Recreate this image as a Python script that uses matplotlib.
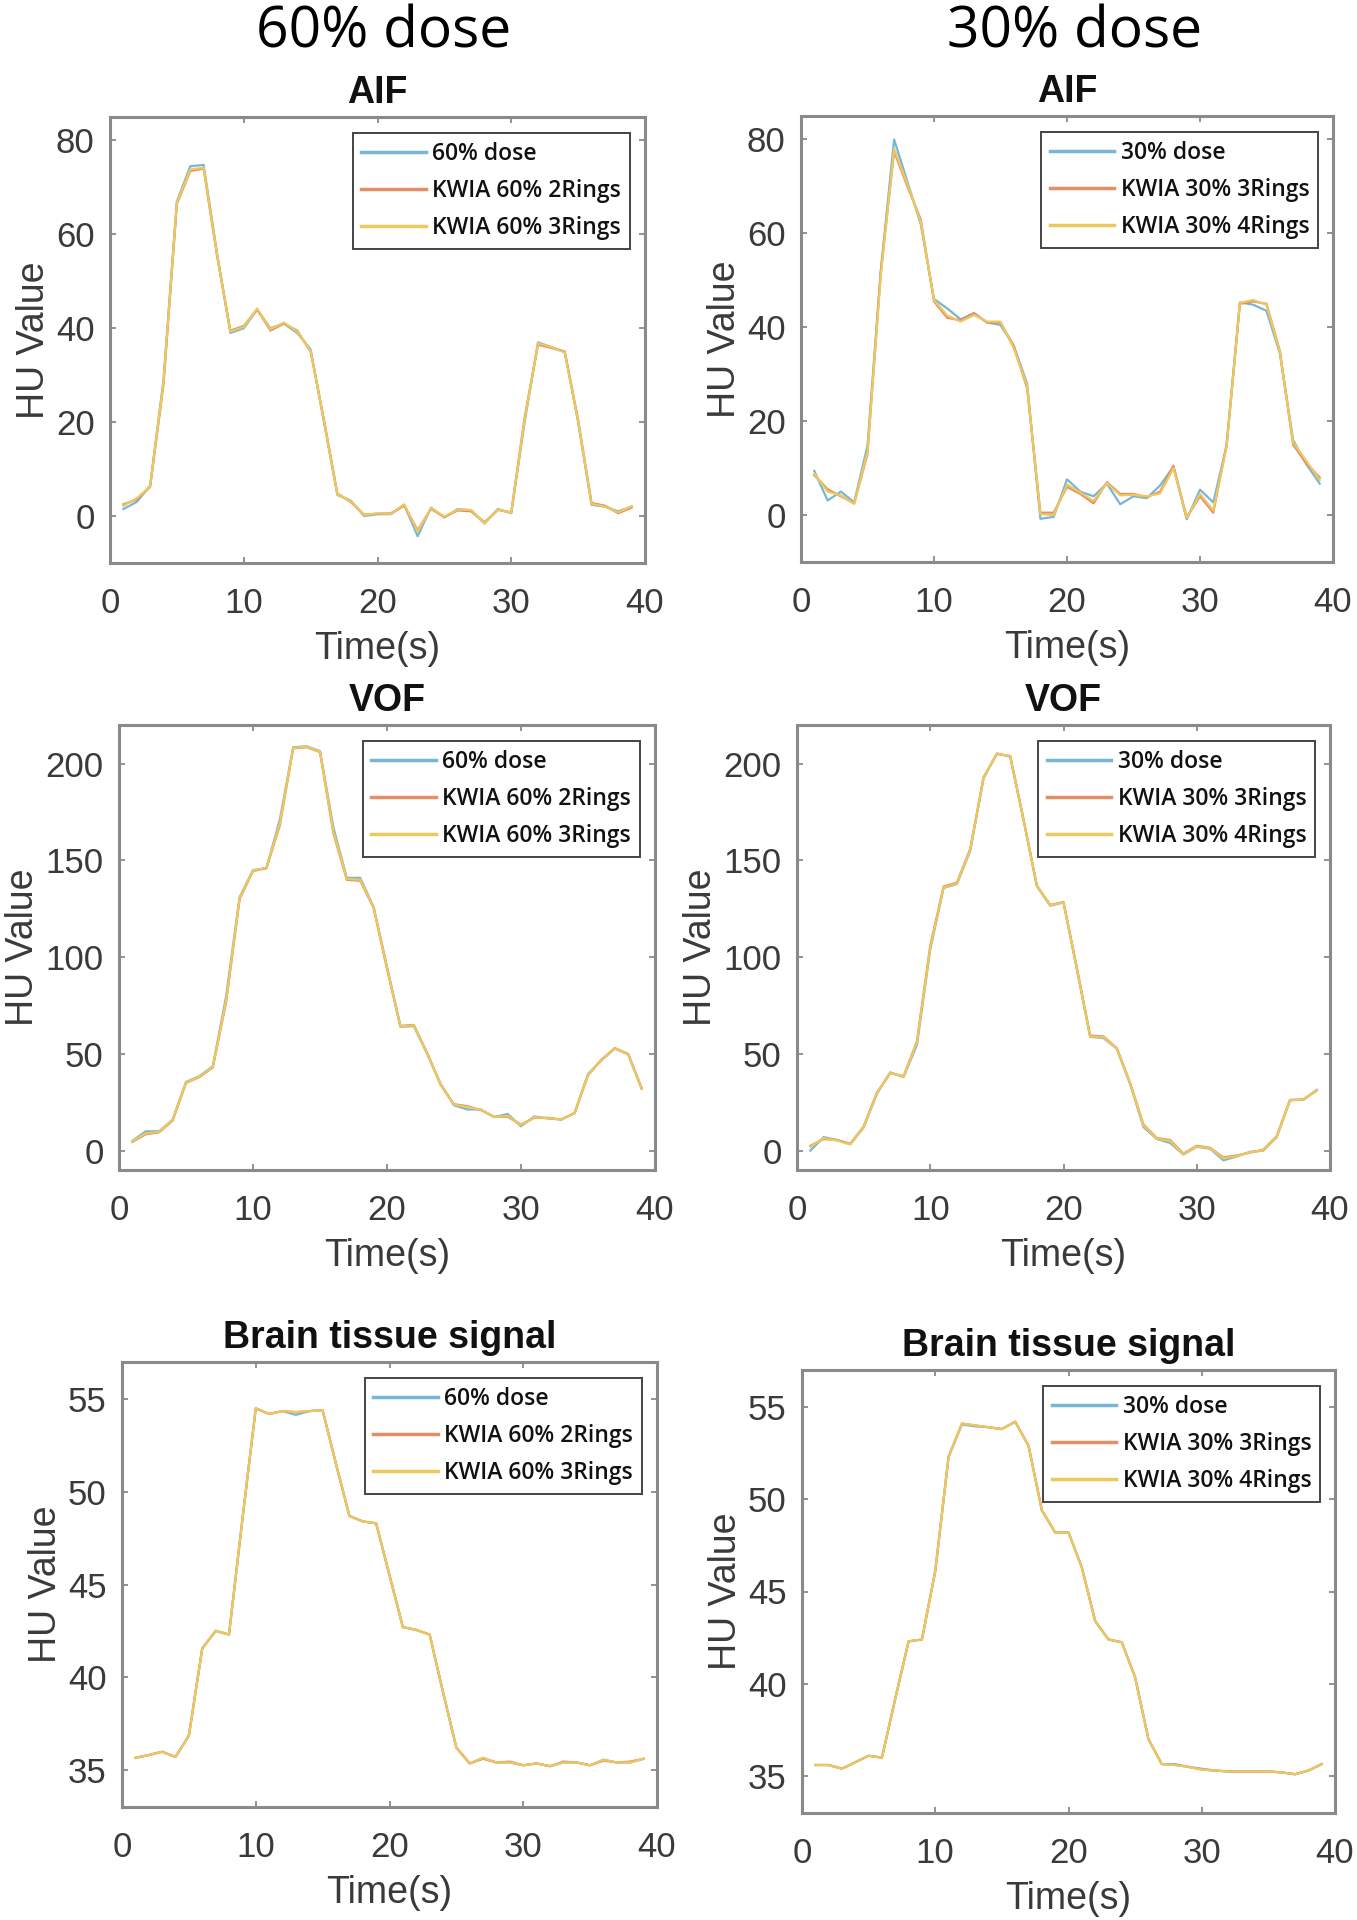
import matplotlib
matplotlib.use("Agg")
import matplotlib.pyplot as plt

plt.rcParams["font.family"] = ["Liberation Sans", "DejaVu Sans"]

# time axis (s)
t = list(range(1, 40))

# --- AIF ---
aif60_dose = [1.5, 3.0, 6.5, 29.0, 67.0, 74.5, 74.8, 56.0, 39.0, 40.0, 44.0, 40.0, 41.0, 39.0, 35.5, 20.0, 4.5, 3.3, 0.0, 0.4,
              0.4, 2.4, -4.3, 1.8, -0.3, 1.5, 1.2, -1.6, 1.5, 0.6, 20.0, 37.0, 36.0, 35.0, 20.0, 2.4, 2.0, 1.0, 2.0]
aif60_2r = [2.5, 3.5, 6.2, 28.0, 66.5, 73.5, 74.0, 55.5, 39.5, 40.5, 44.0, 39.5, 41.0, 39.5, 35.0, 20.5, 4.8, 3.0, 0.3, 0.5,
            0.6, 2.2, -3.0, 1.5, -0.2, 1.2, 1.0, -1.3, 1.3, 0.8, 21.0, 36.5, 35.8, 35.0, 20.5, 2.8, 2.2, 0.6, 1.8]
aif60_3r = [2.2, 3.8, 6.3, 28.5, 66.8, 73.8, 74.2, 55.8, 39.3, 40.3, 44.2, 39.8, 41.2, 39.3, 35.2, 20.2, 4.6, 3.2, 0.2, 0.6,
            0.5, 2.5, -3.3, 1.7, -0.1, 1.4, 1.3, -1.5, 1.4, 0.7, 20.5, 36.8, 36.0, 34.8, 20.2, 2.6, 2.0, 0.8, 2.1]

aif30_dose = [9.4, 3.1, 5.0, 2.7, 14.8, 52.0, 80.0, 71.0, 62.0, 46.0, 44.0, 41.7, 43.0, 41.0, 40.5, 36.0, 28.0, -0.8, -0.4, 7.6,
              5.0, 4.0, 6.7, 2.3, 4.0, 3.6, 6.3, 10.3, -0.9, 5.4, 2.7, 14.8, 45.3, 44.8, 43.5, 34.5, 16.0, 10.8, 6.7]
aif30_3r = [8.5, 5.5, 4.0, 2.5, 13.0, 52.0, 77.5, 70.0, 63.0, 45.5, 42.0, 41.5, 43.0, 41.0, 41.0, 36.0, 27.0, 0.5, 0.5, 6.0,
            4.5, 2.5, 7.0, 4.5, 4.5, 3.8, 5.0, 10.5, -0.5, 4.0, 0.5, 15.0, 45.0, 45.5, 45.0, 35.0, 15.0, 11.0, 8.0]
aif30_4r = [8.8, 5.0, 4.2, 2.4, 13.5, 51.0, 78.0, 70.5, 62.5, 45.8, 42.5, 41.2, 42.6, 41.2, 41.2, 35.5, 27.5, 0.2, 0.0, 6.5,
            4.8, 3.0, 6.8, 4.2, 4.3, 4.0, 4.6, 10.0, -0.6, 4.5, 1.0, 14.5, 45.2, 45.8, 44.8, 34.8, 15.5, 11.5, 7.5]

# --- VOF ---
vof60_dose = [5.0, 10.0, 10.0, 16.0, 35.5, 38.5, 43.6, 80.0, 131.0, 145.0, 146.0, 171.0, 208.5, 209.0, 206.5, 167.0, 141.0,
              141.0, 126.0, 95.0, 64.0, 64.4, 50.0, 34.5, 23.4, 21.3, 21.3, 17.3, 19.0, 12.6, 17.7, 16.6, 16.2, 19.3, 39.6,
              46.7, 52.8, 49.7, 32.5]
vof60_2r = [4.5, 8.5, 9.5, 15.5, 35.0, 38.0, 43.0, 77.0, 130.0, 144.5, 146.0, 168.0, 208.0, 208.5, 206.0, 164.0, 140.0,
            139.5, 125.5, 94.0, 64.5, 65.0, 50.5, 34.0, 24.0, 23.0, 21.0, 17.5, 17.5, 13.5, 17.0, 17.0, 16.0, 19.5, 39.0,
            47.0, 53.0, 50.0, 32.0]
vof60_3r = [4.8, 9.0, 9.8, 15.8, 35.2, 38.2, 43.3, 78.0, 130.5, 144.8, 146.2, 169.0, 208.2, 208.8, 206.2, 165.0, 140.5,
            140.0, 125.8, 94.5, 64.2, 64.8, 50.2, 34.2, 23.8, 22.5, 21.2, 17.4, 18.0, 13.2, 17.3, 16.8, 16.1, 19.4, 39.3,
            46.8, 52.9, 49.8, 32.2]

vof30_dose = [0.0, 7.0, 5.5, 3.4, 12.0, 29.4, 40.5, 38.0, 54.7, 104.0, 135.8, 137.8, 155.0, 192.5, 205.3, 203.6, 171.2,
              136.8, 126.6, 128.3, 94.0, 58.8, 58.2, 52.7, 34.4, 12.2, 6.0, 4.0, -2.0, 2.0, 1.0, -5.0, -3.0, -0.6, 0.0,
              7.0, 26.3, 26.3, 31.4]
vof30_3r = [2.5, 6.0, 5.5, 3.5, 12.5, 30.0, 40.0, 38.5, 56.5, 106.0, 136.5, 138.5, 156.0, 193.0, 205.0, 204.0, 171.0,
            137.0, 127.0, 128.5, 94.5, 59.5, 59.0, 53.0, 35.0, 13.5, 6.5, 5.5, -1.5, 2.5, 1.5, -3.5, -2.5, -1.0, 0.5,
            7.5, 26.0, 26.5, 31.0]
vof30_4r = [2.0, 6.5, 5.2, 3.2, 12.2, 29.8, 40.2, 38.2, 56.0, 105.0, 136.0, 138.0, 155.5, 192.8, 205.2, 203.8, 171.1,
            137.0, 126.8, 128.4, 94.2, 59.0, 58.6, 52.8, 34.8, 13.0, 6.2, 5.0, -1.8, 2.2, 1.2, -4.0, -2.8, -0.8, 0.2,
            7.2, 26.1, 26.4, 31.2]

# --- brain tissue ---
br60_dose = [35.65, 35.8, 35.98, 35.7, 36.85, 41.55, 42.5, 42.3, 48.5, 54.5, 54.2, 54.35, 54.15, 54.35, 54.4, 51.5, 48.7,
             48.4, 48.3, 45.5, 42.7, 42.55, 42.3, 39.2, 36.2, 35.35, 35.65, 35.4, 35.4, 35.25, 35.35, 35.2, 35.4, 35.4,
             35.25, 35.55, 35.4, 35.4, 35.6]
br60_2r = [35.65, 35.8, 35.98, 35.7, 36.85, 41.55, 42.5, 42.3, 48.5, 54.5, 54.2, 54.35, 54.3, 54.35, 54.4, 51.5, 48.7,
           48.4, 48.3, 45.5, 42.7, 42.55, 42.3, 39.2, 36.2, 35.35, 35.6, 35.4, 35.45, 35.25, 35.35, 35.2, 35.45, 35.4,
           35.25, 35.5, 35.4, 35.45, 35.6]
br60_3r = [35.65, 35.8, 35.98, 35.7, 36.85, 41.55, 42.5, 42.3, 48.5, 54.5, 54.2, 54.35, 54.3, 54.35, 54.4, 51.5, 48.7,
           48.4, 48.3, 45.5, 42.7, 42.55, 42.3, 39.2, 36.2, 35.35, 35.65, 35.4, 35.4, 35.25, 35.35, 35.2, 35.4, 35.4,
           35.25, 35.55, 35.4, 35.4, 35.6]

br30_dose = [35.6, 35.6, 35.4, 35.75, 36.1, 36.0, 39.2, 42.3, 42.4, 46.1, 52.3, 54.05, 53.95, 53.9, 53.8, 54.2, 52.9,
             49.4, 48.2, 48.2, 46.3, 43.4, 42.4, 42.25, 40.35, 37.0, 35.65, 35.65, 35.5, 35.4, 35.3, 35.25, 35.25, 35.25,
             35.25, 35.2, 35.1, 35.3, 35.65]
br30_3r = [35.6, 35.6, 35.4, 35.75, 36.1, 36.0, 39.2, 42.3, 42.4, 46.1, 52.3, 54.1, 54.0, 53.9, 53.8, 54.2, 52.9,
           49.4, 48.2, 48.2, 46.3, 43.4, 42.4, 42.25, 40.35, 37.0, 35.65, 35.6, 35.5, 35.35, 35.3, 35.25, 35.25, 35.25,
           35.25, 35.2, 35.1, 35.3, 35.65]
br30_4r = [35.6, 35.6, 35.4, 35.75, 36.1, 36.0, 39.2, 42.3, 42.4, 46.1, 52.3, 54.1, 54.0, 53.9, 53.8, 54.2, 52.9,
           49.4, 48.2, 48.2, 46.3, 43.4, 42.4, 42.25, 40.35, 37.0, 35.65, 35.6, 35.5, 35.35, 35.3, 35.25, 35.25, 35.25,
           35.25, 35.2, 35.1, 35.3, 35.65]

labels60 = ["60% dose", "KWIA 60% 2Rings", "KWIA 60% 3Rings"]
labels30 = ["30% dose", "KWIA 30% 3Rings", "KWIA 30% 4Rings"]
colors = ["#78b6d8", "#e39068", "#ecc85e"]

W, H = 1357, 1920
fig = plt.figure(figsize=(W / 100, H / 100), dpi=100)


def add_panel(box, title, series, labels, ylim, yticks):
    x0, y0, x1, y1 = box  # pixel box, top-left origin
    ax = fig.add_axes([x0 / W, 1 - y1 / H, (x1 - x0) / W, (y1 - y0) / H])
    for ys, lab, c in zip(series, labels, colors):
        ax.plot(t, ys, color=c, lw=1.6, label=lab)
    ax.set_xlim(0, 40)
    ax.set_ylim(*ylim)
    ax.set_xticks([0, 10, 20, 30, 40])
    ax.set_yticks(yticks)
    ax.tick_params(direction="in", length=4, width=1.2, top=True, right=True,
                   colors="#7f7f7f", labelcolor="#3a3a3a", labelsize=25)
    ax.tick_params(axis="x", pad=17)
    ax.tick_params(axis="y", pad=11)
    for sp in ax.spines.values():
        sp.set_color("#8a8a8a")
        sp.set_linewidth(2.2)
    ax.set_title(title, fontsize=27, fontweight="bold", pad=10, color="#111111")
    ax.set_xlabel("Time(s)", fontsize=27, color="#3a3a3a", labelpad=8)
    ax.set_ylabel("HU Value", fontsize=27, color="#3a3a3a", labelpad=3)
    bw, bh = x1 - x0, y1 - y0
    leg = ax.legend(loc="upper right", bbox_to_anchor=(1 - 15 / bw, 1 - 16 / bh), borderaxespad=0,
                    prop={"family": "Open Sans", "weight": "semibold", "size": 16.5},
                    handlelength=2.8, handletextpad=0.3, labelspacing=0.58, borderpad=0.38,
                    fancybox=False, framealpha=1, edgecolor="#444444")
    leg.get_frame().set_linewidth(1.4)
    for txt in leg.get_texts():
        txt.set_color("#111111")
    for ln in leg.get_lines():
        ln.set_linewidth(2.5)
    return ax


add_panel((110, 117, 645, 563), "AIF", [aif60_dose, aif60_2r, aif60_3r], labels60, (-10, 85), [0, 20, 40, 60, 80])
add_panel((801, 116, 1333, 562), "AIF", [aif30_dose, aif30_3r, aif30_4r], labels30, (-10, 85), [0, 20, 40, 60, 80])
add_panel((119, 725, 655, 1170), "VOF", [vof60_dose, vof60_2r, vof60_3r], labels60, (-10, 220), [0, 50, 100, 150, 200])
add_panel((797, 725, 1330, 1170), "VOF", [vof30_dose, vof30_3r, vof30_4r], labels30, (-10, 220), [0, 50, 100, 150, 200])
add_panel((122, 1362, 657, 1807), "Brain tissue signal", [br60_dose, br60_2r, br60_3r], labels60, (33, 57),
          [35, 40, 45, 50, 55])
add_panel((802, 1370, 1335, 1813), "Brain tissue signal", [br30_dose, br30_3r, br30_4r], labels30, (33, 57),
          [35, 40, 45, 50, 55])

# column headings
fig.text(384 / W, 1 - 47 / H, "60% dose", ha="center", va="baseline", fontsize=41, family="Open Sans")
fig.text(1075 / W, 1 - 47 / H, "30% dose", ha="center", va="baseline", fontsize=41, family="Open Sans")

fig.savefig("out.png", dpi=100, facecolor="white")
